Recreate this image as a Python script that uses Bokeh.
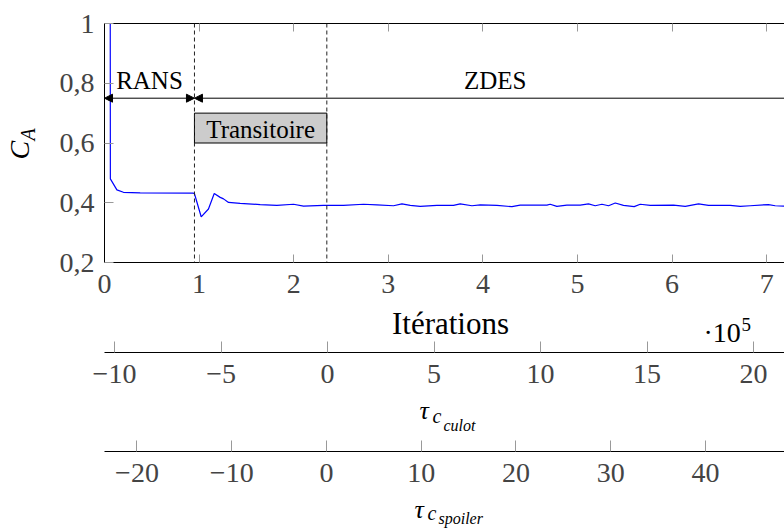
import math
from bokeh.plotting import figure
from bokeh.layouts import column, row
from bokeh.models import (Range1d, FixedTicker, LinearAxis, Span, Arrow,
                          NormalHead, ColumnDataSource, CustomJSTickFormatter)
from bokeh.core.properties import value
from bokeh.embed import file_html
from bokeh.resources import INLINE

# ---------------- data ----------------
# iterations in units of 1e5
iterations = [0.06, 0.062, 0.131, 0.20, 0.377, 0.94, 0.951, 1.022, 1.099, 1.160, 1.223,
              1.258, 1.311, 1.434, 1.646, 1.822, 1.998, 2.104, 2.315, 2.526, 2.738,
              2.879, 3.055, 3.144, 3.232, 3.337, 3.514, 3.689, 3.760, 3.884, 3.972,
              4.148, 4.307, 4.394, 4.677, 4.711, 4.782, 4.888, 5.029, 5.116, 5.187,
              5.258, 5.328, 5.399, 5.486, 5.599, 5.663, 5.769, 6.015, 6.139, 6.279,
              6.385, 6.614, 6.720, 6.826, 7.019, 7.090, 7.185, 7.30]
c_a = [1.30, 0.480, 0.443, 0.435, 0.433, 0.432, 0.430, 0.353, 0.379, 0.431, 0.418,
       0.413, 0.401, 0.398, 0.394, 0.391, 0.395, 0.389, 0.391, 0.391, 0.395,
       0.393, 0.390, 0.396, 0.391, 0.388, 0.391, 0.391, 0.396, 0.390, 0.393,
       0.391, 0.387, 0.392, 0.392, 0.395, 0.388, 0.392, 0.392, 0.396, 0.390,
       0.395, 0.390, 0.399, 0.391, 0.387, 0.395, 0.391, 0.392, 0.388, 0.396,
       0.391, 0.391, 0.388, 0.390, 0.394, 0.390, 0.389, 0.390]

x_ticks = [0, 1, 2, 3, 4, 5, 6, 7]
y_ticks = [0.2, 0.4, 0.6, 0.8, 1.0]
y_tick_labels = ["0,2", "0,4", "0,6", "0,8", "1"]

phase_bounds = [0.951, 2.35]          # end of RANS, end of transient (x 1e5 it.)
zdes_end = 7.31
phase_names = ["RANS", "ZDES", "Transitoire"]

culot_ticks = [-10, -5, 0, 5, 10, 15, 20]
culot_labels = ["−10", "−5", "0", "5", "10", "15", "20"]
spoiler_ticks = [-20, -10, 0, 10, 20, 30, 40]
spoiler_labels = ["−20", "−10", "0", "10", "20", "30", "40"]

FONT = "Liberation Serif"
TICK_GRAY = "#999999"
LEFT_W = 45            # width of the strip holding the y title
W = 784 - LEFT_W
BORDER_L = 104 - LEFT_W

def clean(p):
    p.outline_line_color = None
    p.grid.visible = False
    p.background_fill_color = "white"
    p.border_fill_color = "white"

def ptext(p, x, y, txt, size, italic=False, angle=0.0, align="left",
          xr="default", yr="default"):
    kw = {}
    if xr != "default":
        kw["x_range_name"] = xr
    if yr != "default":
        kw["y_range_name"] = yr
    p.text(x=[x], y=[y], text=[txt], text_font=value(FONT),
           text_font_size=f"{size}px",
           text_font_style="italic" if italic else "normal",
           angle=angle, text_align=align, text_baseline="middle",
           text_color="black", **kw)

# ---------------- main figure ----------------
p1 = figure(width=W, height=306, x_range=Range1d(0, 7.188), y_range=Range1d(0.2, 1.0),
            output_backend="svg", toolbar_location=None,
            min_border_left=BORDER_L, min_border_right=0, min_border_top=23,
            min_border_bottom=44)
clean(p1)

src = ColumnDataSource(dict(x=iterations, y=c_a))
p1.line("x", "y", source=src, line_color="#0000ff", line_width=1.2)

p1.quad(left=[phase_bounds[0]], right=[phase_bounds[1]], bottom=[0.6], top=[0.7],
        fill_color="#cccccc", line_color="black", line_width=1)

for b in phase_bounds:
    p1.add_layout(Span(location=b, dimension="height", line_color="#222222",
                       line_dash="4 3", line_width=1))

arrow_y = 0.75
p1.add_layout(Arrow(start=NormalHead(size=8, fill_color="black", line_color="black"),
                    end=NormalHead(size=8, fill_color="black", line_color="black"),
                    x_start=0, y_start=arrow_y, x_end=phase_bounds[0], y_end=arrow_y,
                    line_color="black", line_width=1))
p1.add_layout(Arrow(start=NormalHead(size=8, fill_color="black", line_color="black"),
                    end=None,
                    x_start=phase_bounds[0], y_start=arrow_y, x_end=zdes_end, y_end=arrow_y,
                    line_color="black", line_width=1))

ptext(p1, phase_bounds[0] / 2, 0.810, phase_names[0], 25, align="center")
ptext(p1, (phase_bounds[0] + zdes_end) / 2, 0.810, phase_names[1], 25, align="center")
ptext(p1, (phase_bounds[0] + phase_bounds[1]) / 2, 0.645, phase_names[2], 25, align="center")

xa = p1.xaxis[0]
xa.ticker = FixedTicker(ticks=x_ticks)
xa.major_tick_in = 8
xa.major_tick_out = 0
xa.minor_tick_in = 0
xa.minor_tick_out = 0
xa.major_tick_line_color = TICK_GRAY
xa.axis_line_color = "black"
xa.major_label_standoff = 12
xa.major_label_text_font = FONT
xa.major_label_text_font_size = "28px"

ya = p1.yaxis[0]
ya.ticker = FixedTicker(ticks=y_ticks)
ya.major_label_overrides = {t: l for t, l in zip(y_ticks, y_tick_labels)}
ya.major_tick_in = 9
ya.major_tick_out = 0
ya.minor_tick_in = 0
ya.minor_tick_out = 0
ya.major_tick_line_color = TICK_GRAY
ya.axis_line_color = "black"
ya.major_label_standoff = 10
ya.major_label_text_font = FONT
ya.major_label_text_font_size = "28px"

top = LinearAxis(ticker=FixedTicker(ticks=x_ticks),
                 formatter=CustomJSTickFormatter(code="return ''"),
                 major_tick_in=8, major_tick_out=0, minor_tick_in=0, minor_tick_out=0,
                 major_tick_line_color=TICK_GRAY, axis_line_color="black",
                 major_label_standoff=0, major_label_text_font_size="1px")
p1.add_layout(top, "above")

# ---------------- y title strip ----------------
pc = figure(width=LEFT_W, height=529, x_range=Range1d(0, LEFT_W), y_range=Range1d(529, 0),
            output_backend="svg", toolbar_location=None,
            x_axis_location=None, y_axis_location=None,
            min_border_left=0, min_border_right=0, min_border_top=0, min_border_bottom=0)
clean(pc)
ptext(pc, 19, 159, "C", 28, italic=True, angle=math.pi / 2)
ptext(pc, 27, 140, "A", 20, italic=True, angle=math.pi / 2)

# ---------------- secondary axes ----------------
def axis_fig(xr, ticks, labels, height, frame_top_img, frame_bot_img, bottom_border):
    p = figure(width=W, height=height, x_range=Range1d(*xr), y_range=Range1d(0, 1),
               output_backend="svg", toolbar_location=None, y_axis_location=None,
               min_border_left=BORDER_L, min_border_right=0, min_border_top=0,
               min_border_bottom=bottom_border)
    p.extra_x_ranges = {"px": Range1d(104, 784)}
    p.extra_y_ranges = {"py": Range1d(frame_bot_img, frame_top_img)}
    clean(p)
    a = p.xaxis[0]
    a.ticker = FixedTicker(ticks=ticks)
    a.major_label_overrides = {t: l for t, l in zip(ticks, labels)}
    a.major_tick_in = 11
    a.major_tick_out = 0
    a.minor_tick_in = 0
    a.minor_tick_out = 0
    a.major_tick_line_color = TICK_GRAY
    a.axis_line_color = "black"
    a.major_label_standoff = 12
    a.major_label_text_font = FONT
    a.major_label_text_font_size = "28px"
    return p

# frame 306 -> 352 holds the main x title; culot axis at 352
p2 = axis_fig((-10.47, 21.45), culot_ticks, culot_labels, 89, 306, 352, 43)
ptext(p2, 450, 322.5, "Itérations", 31, align="center", xr="px", yr="py")
ptext(p2, 703, 332.2, "·10", 28, xr="px", yr="py")
ptext(p2, 741, 324.2, "5", 19, xr="px", yr="py")

# frame 395 -> 451 holds the culot title; spoiler axis at 451
p3 = axis_fig((-23.43, 48.34), spoiler_ticks, spoiler_labels, 99, 395, 451, 43)
ptext(p3, 419, 409.8, "τ", 26, italic=True, xr="px", yr="py")
ptext(p3, 432, 415.6, "c", 20, italic=True, xr="px", yr="py")
ptext(p3, 443, 425.1, "culot", 16, italic=True, xr="px", yr="py")

# frame 494 -> 529 holds the spoiler title
p4 = figure(width=W, height=35, x_range=Range1d(104, 784), y_range=Range1d(529, 494),
            output_backend="svg", toolbar_location=None,
            x_axis_location=None, y_axis_location=None,
            min_border_left=BORDER_L, min_border_right=0, min_border_top=0,
            min_border_bottom=0)
clean(p4)
ptext(p4, 414, 508.6, "τ", 26, italic=True)
ptext(p4, 427, 512.5, "c", 20, italic=True)
ptext(p4, 438, 518.4, "spoiler", 16, italic=True)

layout = row(pc, column(p1, p2, p3, p4, spacing=0), spacing=0)
open("out.html", "w").write(file_html(layout, INLINE))
